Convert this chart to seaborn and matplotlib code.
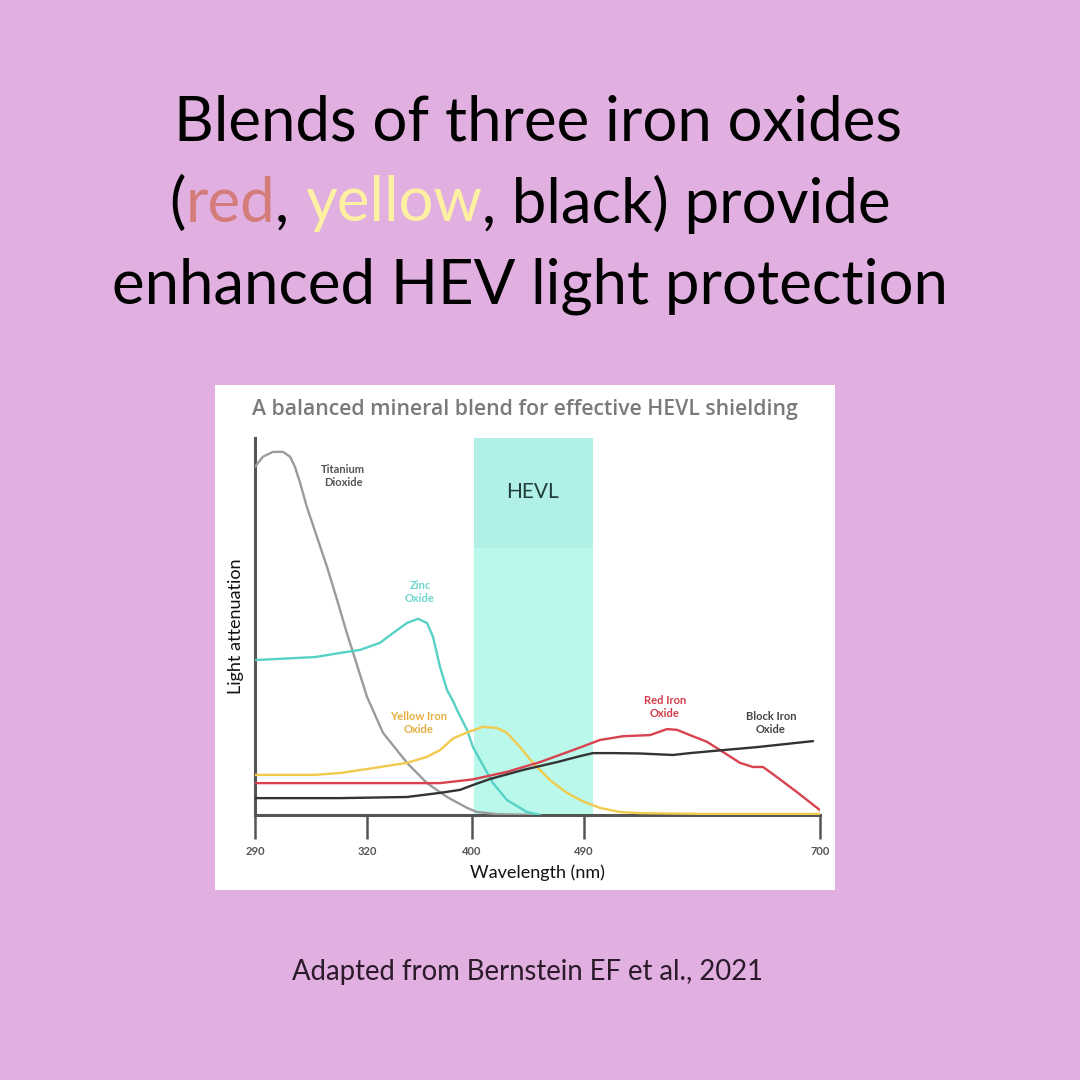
import numpy as np
import pandas as pd
import matplotlib
matplotlib.use("Agg")
import matplotlib.pyplot as plt
from matplotlib.patches import Rectangle
import seaborn as sns

# wavelength ticks (non-linear display spacing, as in the source figure)
tick_nm = [290, 320, 400, 490, 700]
tick_pos = [0, 112, 217, 329, 565]

# curves: wavelength (nm) and relative attenuation (0-100)
tio2_nm = [290, 292.1, 294.8, 297.5, 299.4, 300.7, 302.1, 303.9, 306.6, 309.3, 312.0, 314.6, 316.3, 320,
           332.2, 350.5, 365.7, 381.0, 396.2, 404.0, 420.9, 454.6]
tio2_val = [92.8, 95.5, 96.8, 96.8, 95.5, 92.8, 88.5, 82.1, 74.1, 66.1, 57.3, 48.5, 43.2, 31.5,
            21.9, 13.9, 8.5, 4.8, 1.9, 0.8, 0.2, 0.0]

zno_nm = [290, 306.1, 312.8, 318.1, 329.9, 339.8, 350.5, 358.9, 365.7, 370.3, 375.6, 381.0, 385.5, 388.6,
          396.2, 400.8, 406.4, 416.9, 428.1, 444.1, 454.6]
zno_val = [41.3, 42.1, 43.2, 44.0, 45.9, 48.5, 51.2, 52.3, 51.2, 47.5, 39.5, 33.3, 30.4, 28.0,
           22.7, 18.1, 14.7, 8.5, 4.0, 0.8, 0.0]

yellow_nm = [290, 306.1, 312.8, 324.6, 350.5, 365.7, 375.6, 385.5, 396.2, 408.8, 420.1, 428.1, 438.6,
             449.0, 462.7, 476.3, 489.2, 504.2, 522.0, 539.8, 593.2, 700]
yellow_val = [10.7, 10.7, 11.2, 12.5, 13.9, 15.5, 17.3, 20.4, 22.0, 23.5, 23.2, 21.9, 18.1,
              13.9, 9.3, 5.9, 3.6, 1.9, 0.8, 0.5, 0.3, 0.3]

red_nm = [290, 312.8, 375.6, 400.8, 428.1, 454.6, 481.2, 504.2, 510.5, 524.7, 548.7, 563.9, 572.8,
          584.3, 599.5, 613.7, 628.8, 640.4, 649.3, 661.7, 679.5, 700]
red_val = [8.5, 8.5, 8.5, 9.5, 11.5, 14.1, 17.3, 20.0, 20.3, 21.0, 21.3, 22.9, 22.7,
           21.3, 19.5, 16.8, 13.9, 12.8, 12.8, 10.1, 6.1, 1.3]

black_nm = [290, 312.8, 350.5, 375.6, 390.9, 400.8, 414.5, 440.9, 468.3, 486.8, 498.0, 515.8, 539.8,
            569.2, 584.3, 613.7, 644.0, 693.8]
black_val = [4.5, 4.5, 4.8, 5.9, 6.7, 8.0, 9.6, 12.0, 14.1, 15.7, 16.5, 16.5, 16.4,
             16.0, 16.5, 17.3, 18.1, 19.7]

pigments = ["Titanium Dioxide", "Zinc Oxide", "Yellow Iron Oxide", "Red Iron Oxide", "Black Iron Oxide"]
colors = {"Titanium Dioxide": "#9b9b9b", "Zinc Oxide": "#56d2c4", "Yellow Iron Oxide": "#f2ca4e",
          "Red Iron Oxide": "#d8424f", "Black Iron Oxide": "#333333"}

hevl_band = (402, 498)

frames = []
for name, xs, ys in zip(pigments, [tio2_nm, zno_nm, yellow_nm, red_nm, black_nm],
                        [tio2_val, zno_val, yellow_val, red_val, black_val]):
    frames.append(pd.DataFrame({"nm": xs, "att": ys, "pigment": name}))
df = pd.concat(frames, ignore_index=True)

bg = "#e1afe0"
sns.set_theme(style="white")
plt.rcParams["font.family"] = ["Lato", "DejaVu Sans"]

fig = plt.figure(figsize=(10.8, 10.8), dpi=100)
fig.patch.set_facecolor(bg)
W = H = 1080.0

# white card behind the chart
fig.add_artist(Rectangle((215 / W, 1 - 890 / H), 620 / W, 505 / H, transform=fig.transFigure,
                         facecolor="white", edgecolor="none", zorder=0))

ax = fig.add_axes([255 / W, 1 - 815 / H, 565 / W, (815 - 438) / H])
ax.set_facecolor("none")


def fwd(x):
    return np.interp(x, tick_nm, tick_pos)


def inv(p):
    return np.interp(p, tick_pos, tick_nm)


ax.set_xscale("function", functions=(fwd, inv))

# HEVL band
ax.axvspan(hevl_band[0], hevl_band[1], color="#b9f8ea", lw=0, zorder=0)
ax.axvspan(hevl_band[0], hevl_band[1], ymin=71.2 / 100.5, ymax=1, color="#b0f0e6", lw=0, zorder=0)
ax.text(449, 86, "HEVL", ha="center", va="center", fontsize=15, color="#1f3d3a")

sns.lineplot(data=df, x="nm", y="att", hue="pigment", palette=colors, estimator=None,
             sort=False, legend=False, lw=1.7, ax=ax, zorder=3,
             solid_joinstyle="round", solid_capstyle="round")

ax.set_xlim(290, 700)
ax.set_ylim(0, 100.5)
ax.set_xticks(tick_nm)
ax.set_xticklabels([str(t) for t in tick_nm])
ax.set_yticks([])
for s in ["top", "right"]:
    ax.spines[s].set_visible(False)
for s in ["left", "bottom"]:
    ax.spines[s].set_color("#555555")
    ax.spines[s].set_linewidth(2.2)
ax.tick_params(axis="x", bottom=True, direction="out", length=17, width=1.8, color="#555555",
               labelsize=8, labelcolor="#555555", pad=5)
for lbl in ax.get_xticklabels():
    lbl.set_fontweight("bold")
ax.set_xlabel("Wavelength (nm)", fontsize=13, color="#111111", labelpad=6)
ax.set_ylabel("Light attenuation", fontsize=13, color="#111111", labelpad=8)

# curve labels
label_pos = [("Titanium\nDioxide", 313.6, 90.4, "#555555"),
             ("Zinc\nOxide", 360.4, 59.5, "#6dd6cc"),
             ("Yellow Iron\nOxide", 359.6, 24.5, "#e3ae3e"),
             ("Red Iron\nOxide", 562.1, 28.8, "#d03a48"),
             ("Block Iron\nOxide", 656.4, 24.5, "#444444")]
for txt, x, y, c in label_pos:
    ax.text(x, y, txt, ha="center", va="center", fontsize=8, color=c,
            fontweight="bold", linespacing=1.25)

# chart title inside the card
fig.text(525 / W, 1 - 409 / H, "A balanced mineral blend for effective HEVL shielding",
         ha="center", va="center", fontsize=15.3, color="#7a7a7a", fontweight="semibold",
         family=["Open Sans", "DejaVu Sans"])

# headline with coloured words
renderer = fig.canvas.get_renderer()


def colored_line(parts, cx, cy, size):
    texts = [fig.text(0, cy, t, fontsize=size, color=c, ha="left", va="center") for t, c in parts]
    widths = [t.get_window_extent(renderer).width for t in texts]
    x = cx * W - sum(widths) / 2
    for t, w in zip(texts, widths):
        t.set_x(x / W)
        x += w


hsize = 44.5
colored_line([("Blends of three iron oxides", "#000000")], 538 / W, 1 - 123 / H, hsize)
colored_line([("(", "#000000"), ("red", "#d47c7a"), (", ", "#000000"), ("yellow", "#fdf0a2"),
              (", black) provide", "#000000")], 530 / W, 1 - 204 / H, hsize)
colored_line([("enhanced HEV light protection", "#000000")], 530 / W, 1 - 286 / H, hsize)

fig.text(528 / W, 1 - 972 / H, "Adapted from Bernstein EF et al., 2021", ha="center", va="center",
         fontsize=19.8, color="#2a1a2a")

fig.savefig("out.png", dpi=100, facecolor=bg)
